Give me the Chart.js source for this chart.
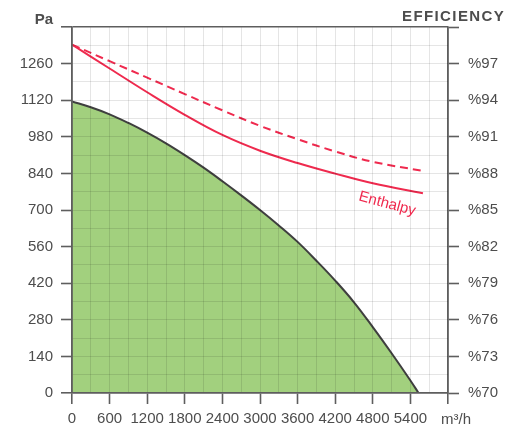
<!DOCTYPE html>
<html>
<head>
<meta charset="utf-8">
<script src="https://cdn.jsdelivr.net/npm/chart.js@4"></script>
<style>
  html, body { margin: 0; padding: 0; background: #fff; }
  canvas { display: block; }
</style>
</head>
<body>
<canvas id="fanChart" width="515" height="429"></canvas>
<script>
// ================= DATA =================
// fan curve (m3/h -> Pa)
const fanFlow = [0, 300, 600, 900, 1200, 1500, 1800, 2100, 2400, 2700, 3000, 3300, 3600, 3900, 4200, 4500, 4800, 5100, 5400, 5530];
const fanPa   = [1115, 1093, 1066, 1033, 996, 955, 910, 862, 810, 756, 700, 641, 578, 506, 430, 347, 252, 152, 48, 0];

// efficiency curves (m3/h -> %)
const effFlow      = [0, 600, 1200, 1800, 2400, 3000, 3600, 4200, 4800, 5600];
const effEnthalpy  = [98.55, 96.6, 94.65, 92.8, 91.15, 89.86, 88.85, 87.98, 87.19, 86.37];
const effSensible  = [98.55, 97.2, 95.85, 94.5, 93.17, 91.9, 90.8, 89.8, 88.95, 88.2];

// axes
const paMax = 1400, paStep = 70, paLabelStep = 140;
const flowMax = 6000, flowStep = 300, flowLabelStep = 600;
const effMin = 70, effMax = 100, effStep = 3;

const RED = "#ef2a4e";
const AXIS = "#5e5e5e";
const TEXT = "#4d4d4d";
const FONT = "'Liberation Sans', Arial, Helvetica, sans-serif";

const toPoints = (xs, ys) => xs.map((x, i) => ({ x, y: ys[i] }));

// ================= TEXT LABELS =================
const textPlugin = {
  id: "textLabels",
  afterDraw(chart) {
    const { ctx, scales } = chart;
    ctx.save();
    ctx.fillStyle = TEXT;
    ctx.textBaseline = "alphabetic";

    ctx.font = "bold 15px " + FONT;
    ctx.textAlign = "right";
    ctx.fillText("Pa", 53, 24);

    ctx.textAlign = "left";
    ctx.letterSpacing = "1.4px";
    ctx.fillText("EFFICIENCY", 402, 21);
    ctx.letterSpacing = "0px";

    ctx.font = "15px " + FONT;
    ctx.fillText("m³/h", 441, 424);

    // curve label
    const lx = scales.x.getPixelForValue(5030);
    const ly = scales.y2.getPixelForValue(85.5);
    ctx.translate(lx, ly);
    ctx.rotate(15 * Math.PI / 180);
    ctx.fillStyle = RED;
    ctx.font = "15px " + FONT;
    ctx.textAlign = "center";
    ctx.textBaseline = "middle";
    ctx.fillText("Enthalpy", 0, 0);
    ctx.restore();
  }
};

// ================= CHART =================
const gridColor = v => (v === 0 || v === paMax || v === flowMax) ? AXIS : "rgba(0,0,0,0.1)";

new Chart(document.getElementById("fanChart"), {
  type: "scatter",
  data: {
    datasets: [
      {
        label: "Fan",
        data: toPoints(fanFlow, fanPa),
        showLine: true,
        borderColor: "#3f3f3f",
        borderWidth: 2,
        backgroundColor: "#a2d07e",
        fill: "origin",
        pointRadius: 0,
        tension: 0.4,
        yAxisID: "y",
        order: 3
      },
      {
        label: "Sensible",
        data: toPoints(effFlow, effSensible),
        showLine: true,
        borderColor: RED,
        borderWidth: 2,
        borderDash: [8, 5],
        pointRadius: 0,
        tension: 0.4,
        yAxisID: "y2",
        order: 1
      },
      {
        label: "Enthalpy",
        data: toPoints(effFlow, effEnthalpy),
        showLine: true,
        borderColor: RED,
        borderWidth: 2,
        pointRadius: 0,
        tension: 0.4,
        yAxisID: "y2",
        order: 2
      }
    ]
  },
  options: {
    responsive: false,
    animation: false,
    devicePixelRatio: 1,
    layout: { padding: { top: 27, left: 0, right: 0, bottom: 0 } },
    plugins: { legend: { display: false }, tooltip: { enabled: false } },
    scales: {
      x: {
        type: "linear",
        min: 0,
        max: flowMax,
        afterFit: s => { s.height = 36; },
        ticks: {
          stepSize: flowStep,
          autoSkip: false,
          maxRotation: 0,
          padding: 6,
          color: TEXT,
          font: { family: FONT, size: 15 },
          callback: v => (v % flowLabelStep === 0 && v < flowMax) ? v : ""
        },
        grid: {
          z: 1,
          color: c => gridColor(c.tick.value),
          lineWidth: c => (c.tick.value === 0 || c.tick.value === flowMax) ? 1.6 : 1,
          tickColor: c => c.tick.value % flowLabelStep === 0 ? AXIS : "rgba(0,0,0,0)",
          tickLength: 11,
          tickWidth: 1.6
        },
        border: { display: true, color: AXIS, width: 1.6, z: 1 }
      },
      y: {
        type: "linear",
        position: "left",
        min: 0,
        max: paMax,
        afterFit: s => { s.width = 72; },
        ticks: {
          stepSize: paStep,
          autoSkip: false,
          padding: 8,
          color: TEXT,
          font: { family: FONT, size: 15 },
          callback: v => (v % paLabelStep === 0 && v < paMax) ? v : ""
        },
        grid: {
          z: 1,
          color: c => gridColor(c.tick.value),
          lineWidth: c => (c.tick.value === 0 || c.tick.value === paMax) ? 1.6 : 1,
          tickColor: c => c.tick.value % paLabelStep === 0 ? AXIS : "rgba(0,0,0,0)",
          tickLength: 11,
          tickWidth: 1.6
        },
        border: { display: true, color: AXIS, width: 1.6, z: 1 }
      },
      y2: {
        type: "linear",
        position: "right",
        min: effMin,
        max: effMax,
        afterFit: s => { s.width = 67; },
        ticks: {
          stepSize: effStep,
          autoSkip: false,
          padding: 9,
          color: TEXT,
          font: { family: FONT, size: 15 },
          callback: v => v < effMax ? "%" + v : ""
        },
        grid: {
          drawOnChartArea: false,
          tickColor: AXIS,
          tickLength: 11,
          tickWidth: 1.6
        },
        border: { display: true, color: AXIS, width: 1.6 }
      }
    }
  },
  plugins: [textPlugin]
});
</script>
</body>
</html>
